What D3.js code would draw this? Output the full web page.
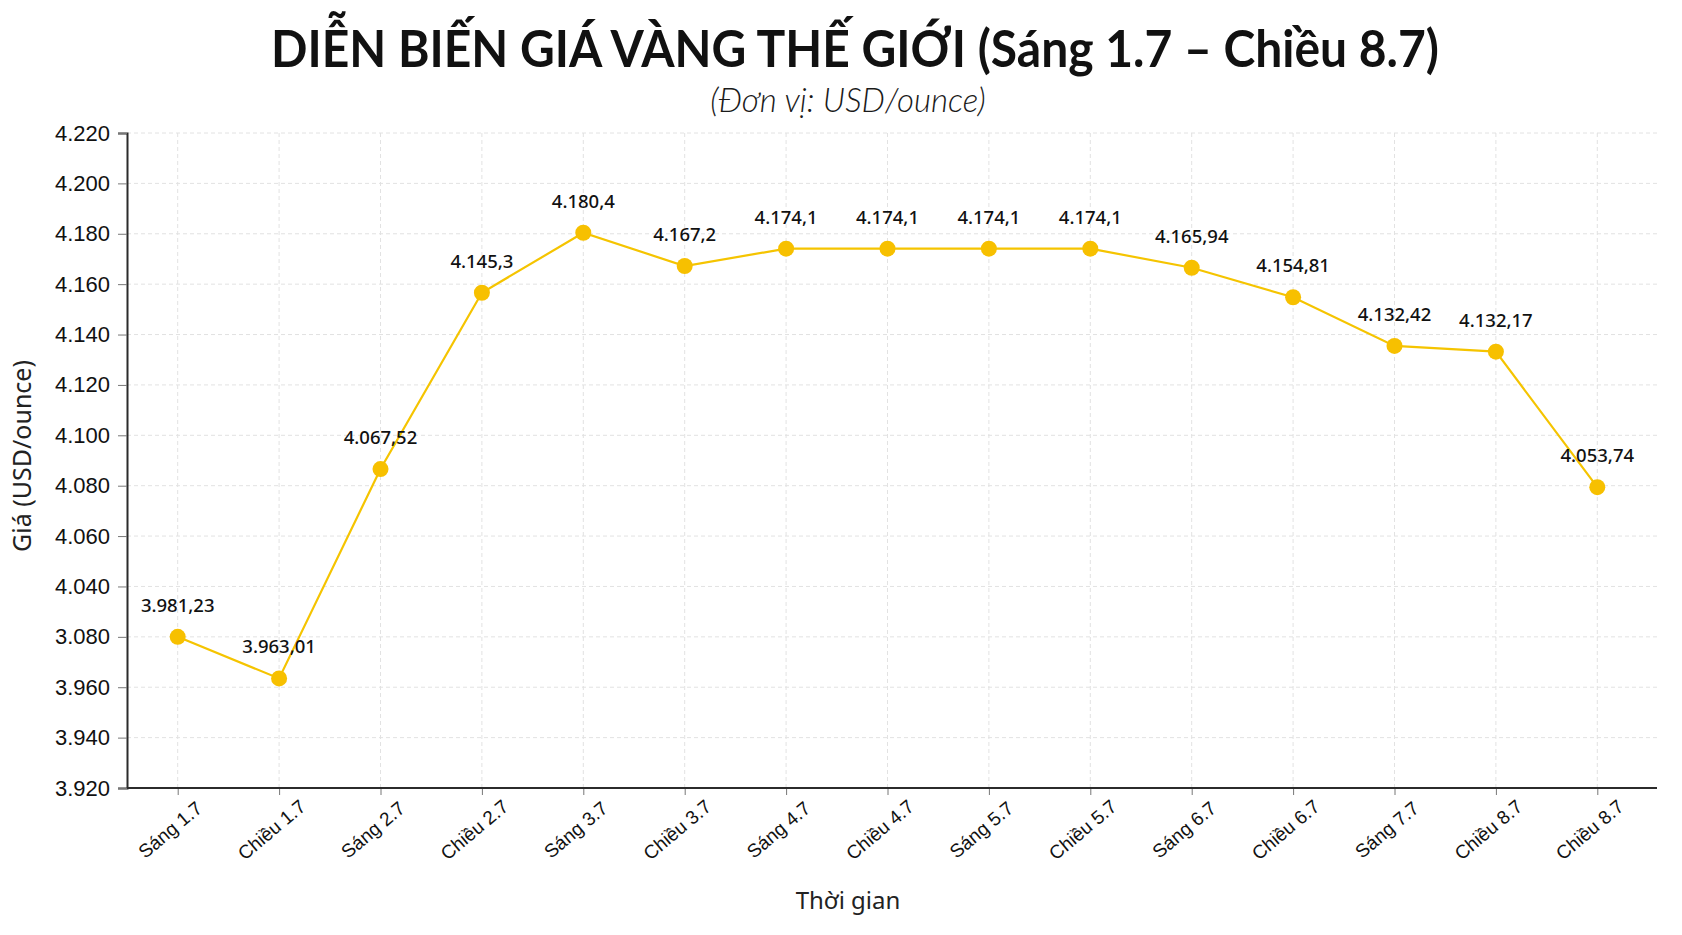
<!DOCTYPE html>
<html>
<head>
<meta charset="utf-8">
<script src="https://cdn.jsdelivr.net/npm/d3@7"></script>
<style>
  body { margin: 0; background: #fff; }
  svg { display: block; font-family: "Noto Sans", sans-serif; }
</style>
</head>
<body>
<div id="chart"></div>
<script>
// Nhãn trục X (có hai nhãn "Chiều 8.7" như bản gốc)
const categories = ["Sáng 1.7", "Chiều 1.7", "Sáng 2.7", "Chiều 2.7", "Sáng 3.7", "Chiều 3.7",
  "Sáng 4.7", "Chiều 4.7", "Sáng 5.7", "Chiều 5.7", "Sáng 6.7", "Chiều 6.7",
  "Sáng 7.7", "Chiều 8.7", "Chiều 8.7"];

// Giá ghi trên từng điểm
const priceLabels = ["3.981,23", "3.963,01", "4.067,52", "4.145,3", "4.180,4", "4.167,2",
  "4.174,1", "4.174,1", "4.174,1", "4.174,1", "4.165,94", "4.154,81",
  "4.132,42", "4.132,17", "4.053,74"];

// Vị trí điểm đọc theo lưới trục Y của hình gốc (một vài điểm lệch so với nhãn)
const plotValues = [4020, 4003.5, 4086.6, 4156.6, 4180.4, 4167.2,
  4174.1, 4174.1, 4174.1, 4174.1, 4166.5, 4154.8,
  4135.5, 4133.2, 4079.4];

// Vạch trục Y và nhãn in trên trục (giữ nguyên như hình gốc)
const yTickValues = [3960, 3980, 4000, 4020, 4040, 4060, 4080, 4100, 4120, 4140, 4160, 4180, 4200, 4220];
const yTickLabels = ["3.920", "3.940", "3.960", "3.080", "4.040", "4.060", "4.080", "4.100",
  "4.120", "4.140", "4.160", "4.180", "4.200", "4.220"];

const W = 1682, H = 935;
const margin = { top: 133, right: 25, bottom: 147, left: 127 };
const width = W - margin.left - margin.right;
const height = H - margin.top - margin.bottom;

const svg = d3.select("#chart").append("svg")
  .attr("width", W)
  .attr("height", H);

const g = svg.append("g")
  .attr("transform", `translate(${margin.left}, ${margin.top})`);

// Thang đo
const idx = d3.range(categories.length);
const xScale = d3.scalePoint()
  .domain(idx)
  .range([0, width - 9])
  .padding(0.5);

const yScale = d3.scaleLinear()
  .domain([d3.min(yTickValues), d3.max(yTickValues)])
  .range([height, 0]);

// Lưới ngang
g.append("g")
  .selectAll("line")
  .data(yTickValues)
  .join("line")
  .attr("x1", 0).attr("x2", width)
  .attr("y1", d => yScale(d)).attr("y2", d => yScale(d))
  .attr("stroke", "#e2e2e2")
  .attr("stroke-dasharray", "4,3");

// Lưới dọc
g.append("g")
  .selectAll("line")
  .data(idx)
  .join("line")
  .attr("x1", d => xScale(d)).attr("x2", d => xScale(d))
  .attr("y1", 0).attr("y2", height)
  .attr("stroke", "#e2e2e2")
  .attr("stroke-dasharray", "4,3");

// Trục Y
const yAxis = g.append("g")
  .call(d3.axisLeft(yScale)
    .tickValues(yTickValues)
    .tickFormat((d, i) => yTickLabels[i])
    .tickSize(9)
    .tickPadding(8));
yAxis.select(".domain").attr("stroke", "#2b2b2b").attr("stroke-width", 2);
yAxis.selectAll(".tick line").attr("stroke", "#777");
yAxis.selectAll("text")
  .attr("fill", "#111")
  .style("font-size", "22px");

// Trục X
const xAxis = g.append("g")
  .attr("transform", `translate(0, ${height})`)
  .call(d3.axisBottom(xScale)
    .tickFormat(i => categories[i])
    .tickSize(7));
xAxis.select(".domain").remove();
xAxis.selectAll(".tick line").attr("stroke", "#777");
xAxis.selectAll("text")
  .attr("fill", "#111")
  .style("font-size", "19px")
  .attr("text-anchor", "middle")
  .attr("dy", null)
  .attr("y", 0)
  .attr("dominant-baseline", "middle")
  .attr("transform", "translate(-7, 43) rotate(-40)");

g.append("line")
  .attr("x1", 0).attr("x2", width)
  .attr("y1", height).attr("y2", height)
  .attr("stroke", "#2b2b2b")
  .attr("stroke-width", 2);

// Đường giá
const line = d3.line()
  .x(i => xScale(i))
  .y(i => yScale(plotValues[i]));

g.append("path")
  .datum(idx)
  .attr("fill", "none")
  .attr("stroke", "#f5c400")
  .attr("stroke-width", 2.2)
  .attr("d", line);

// Điểm
g.append("g")
  .selectAll("circle")
  .data(idx)
  .join("circle")
  .attr("cx", i => xScale(i))
  .attr("cy", i => yScale(plotValues[i]))
  .attr("r", 8)
  .attr("fill", "#f7c000");

// Nhãn giá
g.append("g")
  .selectAll("text")
  .data(idx)
  .join("text")
  .attr("x", i => xScale(i))
  .attr("y", i => yScale(plotValues[i]) - 25)
  .attr("text-anchor", "middle")
  .attr("fill", "#111")
  .style("font-size", "18.5px")
  .style("font-weight", 500)
  .text(i => priceLabels[i]);

// Tiêu đề
svg.append("text")
  .attr("x", 855)
  .attr("y", 67)
  .attr("text-anchor", "middle")
  .attr("textLength", 1168)
  .attr("lengthAdjust", "spacingAndGlyphs")
  .style("font-family", "Lato, sans-serif")
  .style("font-weight", 700)
  .style("font-size", "52px")
  .attr("fill", "#111")
  .text("DIỄN BIẾN GIÁ VÀNG THẾ GIỚI (Sáng 1.7 – Chiều 8.7)");

svg.append("text")
  .attr("x", 848)
  .attr("y", 112)
  .attr("text-anchor", "middle")
  .style("font-family", "Lato, sans-serif")
  .style("font-style", "italic")
  .style("font-weight", 300)
  .style("font-size", "33px")
  .attr("fill", "#1a1a1a")
  .text("(Đơn vị: USD/ounce)");

// Tên trục
svg.append("text")
  .attr("x", 848)
  .attr("y", 909)
  .attr("text-anchor", "middle")
  .style("font-size", "24px")
  .attr("fill", "#222")
  .text("Thời gian");

svg.append("text")
  .attr("transform", "translate(31, 456) rotate(-90)")
  .attr("text-anchor", "middle")
  .style("font-size", "25px")
  .attr("fill", "#222")
  .text("Giá (USD/ounce)");
</script>
</body>
</html>
